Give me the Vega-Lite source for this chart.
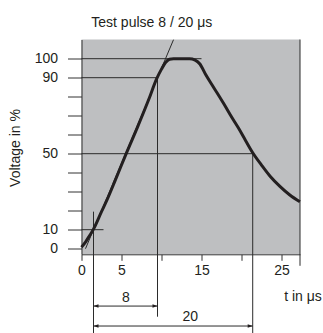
{
  "$schema": "https://vega.github.io/schema/vega-lite/v6.json",
  "width": 218.5,
  "height": 214.8,
  "autosize": {"type": "none"},
  "padding": {"left": 81.5, "top": 39.5, "right": 23, "bottom": 78.7},
  "background": "white",
  "config": {
    "view": {"fill": "#bebfc1", "stroke": null},
    "font": "Liberation Sans, Arial, sans-serif"
  },
  "title": {
    "text": "Test pulse 8 / 20 μs",
    "fontSize": 14,
    "fontWeight": "normal",
    "font": "Liberation Sans, Arial, sans-serif",
    "color": "#231f20",
    "anchor": "middle",
    "frame": "group",
    "dx": -39,
    "dy": 15,
    "offset": 13.5,
    "baseline": "alphabetic"
  },
  "datasets": {
    "curve": [
      {"x": 0, "y": 0.8}, {"x": 0.5, "y": 3.5}, {"x": 1, "y": 6.8}, {"x": 1.5, "y": 10.3},
      {"x": 2.5, "y": 19.5}, {"x": 3.2, "y": 25.8}, {"x": 4.2, "y": 35.8}, {"x": 5.6, "y": 50.2},
      {"x": 7, "y": 64}, {"x": 8.4, "y": 78.5}, {"x": 9.4, "y": 89.5}, {"x": 10, "y": 94.5},
      {"x": 10.5, "y": 98}, {"x": 11, "y": 99.7}, {"x": 11.5, "y": 100}, {"x": 13.5, "y": 100},
      {"x": 14.2, "y": 99.3}, {"x": 14.8, "y": 97.2}, {"x": 15.5, "y": 91.8}, {"x": 16.5, "y": 85},
      {"x": 17.75, "y": 76.5}, {"x": 18.8, "y": 69}, {"x": 19.6, "y": 63.6}, {"x": 20.5, "y": 57},
      {"x": 21.4, "y": 50.5}, {"x": 22.5, "y": 44}, {"x": 23.6, "y": 38}, {"x": 24.8, "y": 32.8},
      {"x": 26, "y": 28.4}, {"x": 27.3, "y": 24.7}
    ],
    "lines": [
      {"x": 0, "x2": 15, "y": 100, "y2": 100},
      {"x": 0, "x2": 9.5, "y": 90, "y2": 90},
      {"x": 0, "x2": 21.4, "y": 50, "y2": 50},
      {"x": 0, "x2": 2.75, "y": 10, "y2": 10},
      {"x": 1.5, "x2": 1.5, "y": 19.5, "y2": -44.4},
      {"x": 9.5, "x2": 9.5, "y": 90, "y2": -35.8},
      {"x": 21.4, "x2": 21.4, "y": 50, "y2": -44.4},
      {"x": 1.5, "x2": 9.5, "y": -30.2, "y2": -30.2},
      {"x": 1.5, "x2": 21.4, "y": -40.7, "y2": -40.7},
      {"x": 0.5, "x2": 11.5, "y": 0, "y2": 110},
      {"x": 27.31, "x2": 27.31, "y": 110.1, "y2": -9}
    ],
    "arrows": [
      {"x": 1.5, "y": -30.2, "dir": "left"},
      {"x": 9.5, "y": -30.2, "dir": "right"},
      {"x": 1.5, "y": -40.7, "dir": "left"},
      {"x": 21.4, "y": -40.7, "dir": "right"}
    ],
    "labels": [
      {"x": 5.55, "y": -27.8, "label": "8"},
      {"x": 13.6, "y": -37.9, "label": "20"}
    ]
  },
  "encoding": {
    "x": {
      "field": "x",
      "type": "quantitative",
      "scale": {"domain": [0, 27.31], "nice": false, "zero": false},
      "axis": {
        "values": [0, 5, 10, 15, 20, 25],
        "labelExpr": "datum.value == 10 || datum.value == 20 ? '' : datum.label",
        "grid": false,
        "tickSize": 6,
        "labelPadding": 3,
        "labelFontSize": 14,
        "labelFont": "Liberation Sans, Arial, sans-serif",
        "labelColor": "#231f20",
        "labelFlush": false,
        "labelOverlap": false,
        "tickColor": "#333333",
        "domainColor": "#333333",
        "title": "t in μs",
        "titleX": 221,
        "titleY": 46.4,
        "titleAlign": "center",
        "titleBaseline": "alphabetic",
        "titleFontSize": 14,
        "titleFontWeight": "normal",
        "titleFont": "Liberation Sans, Arial, sans-serif",
        "titleColor": "#231f20"
      }
    },
    "y": {
      "field": "y",
      "type": "quantitative",
      "scale": {"domain": [-2.95, 110.1], "nice": false, "zero": false},
      "axis": {
        "values": [0, 10, 20, 30, 40, 50, 60, 70, 80, 90, 100],
        "labelExpr": "datum.value == 0 || datum.value == 10 || datum.value == 50 || datum.value == 90 || datum.value == 100 ? datum.label : ''",
        "grid": false,
        "tickSize": 14,
        "labelPadding": 10,
        "labelFontSize": 14,
        "labelFont": "Liberation Sans, Arial, sans-serif",
        "labelColor": "#231f20",
        "labelFlush": false,
        "labelOverlap": false,
        "tickColor": "#333333",
        "domainColor": "#333333",
        "title": "Voltage in %",
        "titleX": -62,
        "titleY": 108,
        "titleAngle": 270,
        "titleAlign": "center",
        "titleBaseline": "alphabetic",
        "titleFontSize": 14,
        "titleFontWeight": "normal",
        "titleFont": "Liberation Sans, Arial, sans-serif",
        "titleColor": "#231f20"
      }
    }
  },
  "layer": [
    {
      "data": {"name": "lines"},
      "mark": {"type": "rule", "color": "#2b2b2b", "strokeWidth": 1, "clip": false},
      "encoding": {
        "x2": {"field": "x2"},
        "y2": {"field": "y2"}
      }
    },
    {
      "data": {"name": "curve"},
      "mark": {"type": "line", "interpolate": "monotone", "strokeWidth": 3, "color": "#231f20", "clip": false},
      "encoding": {}
    },
    {
      "data": {"name": "arrows"},
      "mark": {"type": "point", "filled": true, "opacity": 1, "color": "#231f20", "size": 100, "clip": false},
      "encoding": {
        "shape": {
          "field": "dir",
          "type": "nominal",
          "scale": {"domain": ["left", "right"], "range": ["M0,0L1,-0.35L1,0.35Z", "M0,0L-1,-0.35L-1,0.35Z"]},
          "legend": null
        }
      }
    },
    {
      "data": {"name": "labels"},
      "mark": {"type": "text", "fontSize": 14, "align": "center", "baseline": "alphabetic", "color": "#231f20", "font": "Liberation Sans, Arial, sans-serif", "clip": false},
      "encoding": {
        "text": {"field": "label", "type": "nominal"}
      }
    }
  ]
}
